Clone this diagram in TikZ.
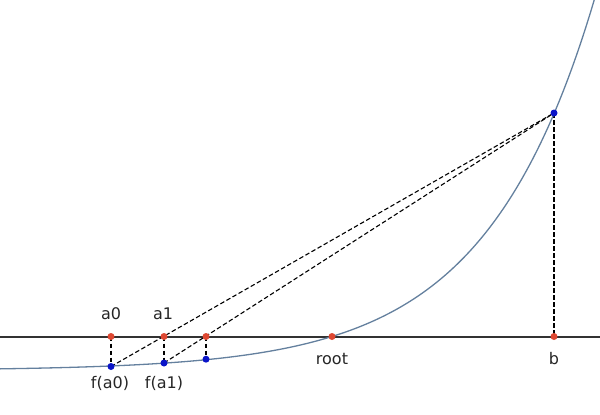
\documentclass[tikz,border=0pt]{standalone}
\usepackage{fontspec}
\setmainfont{DejaVu Sans}
\begin{document}
\begin{tikzpicture}[x=1pt,y=-1pt,
  lbl/.style={font=\fontsize{16}{19}\selectfont, text=black!85},
  rdot/.style={circle,fill={rgb,255:red,222;green,72;blue,50},inner sep=0pt,minimum size=7pt},
  bdot/.style={circle,fill={rgb,255:red,10;green,20;blue,200},inner sep=0pt,minimum size=7pt},
  dsh/.style={black,line width=1.1pt,dash pattern=on 4.5pt off 2.5pt},
  curvestyle/.style={color={rgb,255:red,100;green,128;blue,158},line width=1.3pt},
  axisstyle/.style={color={rgb,255:red,50;green,50;blue,50},line width=2pt}]
\useasboundingbox (0,0) rectangle (600,415);
\begin{scope}
\clip (0,0) rectangle (600,415);
% axis
\coordinate (axL) at (0,336.5);
\coordinate (axR) at (600,336.5);
\draw[axisstyle] (axL) -- (axR);
% points
\coordinate (A0) at (111,336.5);
\coordinate (A1) at (164,336.5);
\coordinate (A2) at (206,336.5);
\coordinate (R) at (332,336.5);
\coordinate (B) at (554,336.5);
\coordinate (FA0) at (111,366.5);
\coordinate (FA1) at (164,363);
\coordinate (FA2) at (206,359.2);
\coordinate (FB) at (554,113);
% dashed
\draw[dsh] (FA0) -- (FB);
\draw[dsh] (FA1) -- (FB);
\draw[dsh] (A0) -- (FA0);
\draw[dsh] (A1) -- (FA1);
\draw[dsh] (A2) -- (FA2);
\draw[dsh] (FB) -- (B);
% curve
\draw[curvestyle] plot[domain=0:600,samples=200,smooth] (\x,{336.5-34*(exp(0.00911*(\x-332))-1)});
\end{scope}
% dots
\node[rdot] (a0) at (A0) {};
\node[rdot] (a1) at (A1) {};
\node[rdot] (a2) at (A2) {};
\node[rdot] (r) at (R) {};
\node[rdot] (b) at (B) {};
\node[bdot] (fa0) at (FA0) {};
\node[bdot] (fa1) at (FA1) {};
\node[bdot] (fa2) at (FA2) {};
\node[bdot] (fb) at (FB) {};
% labels
\node[lbl] (la0) at (111,314) {a0};
\node[lbl] (la1) at (163,314) {a1};
\node[lbl] (lr) at (332,359) {root};
\node[lbl] (lb) at (554,359) {b};
\node[lbl] (lfa0) at (110,383) {f(a0)};
\node[lbl] (lfa1) at (164,383) {f(a1)};
\end{tikzpicture}
\end{document}
